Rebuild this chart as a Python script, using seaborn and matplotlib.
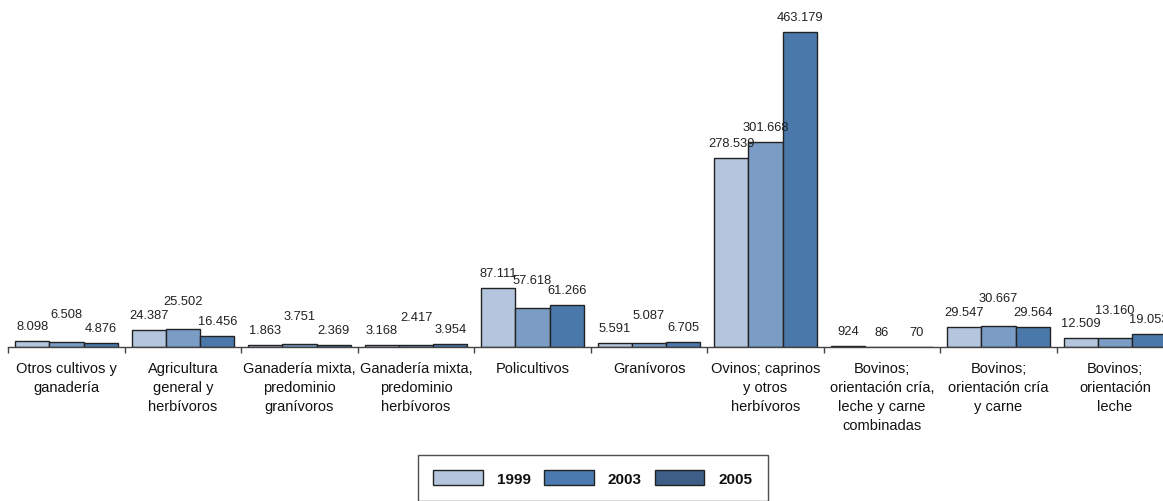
import numpy as np
import pandas as pd
import seaborn as sns
import matplotlib.pyplot as plt
import matplotlib.patches as mpatches

# Datos (valores en unidades; etiquetas con punto como separador de miles)
categorias = [
    "Otros cultivos y\nganadería",
    "Agricultura\ngeneral y\nherbívoros",
    "Ganadería mixta,\npredominio\ngranívoros",
    "Ganadería mixta,\npredominio\nherbívoros",
    "Policultivos",
    "Granívoros",
    "Ovinos; caprinos\ny otros\nherbívoros",
    "Bovinos;\norientación cría,\nleche y carne\ncombinadas",
    "Bovinos;\norientación cría\ny carne",
    "Bovinos;\norientación\nleche",
]
anios = ["1999", "2003", "2005"]
v1999 = [8098, 24387, 1863, 3168, 87111, 5591, 278539, 924, 29547, 12509]
v2003 = [6508, 25502, 3751, 2417, 57618, 5087, 301668, 86, 30667, 13160]
v2005 = [4876, 16456, 2369, 3954, 61266, 6705, 463179, 70, 29564, 19053]

colores_barras = ["#b3c6de", "#7a9cc5", "#4a78ab"]
colores_leyenda = ["#b3c6de", "#4a7ab0", "#3d5f87"]


def formato(v):
    return f"{int(round(v)):,}".replace(",", ".")


def main():
    sns.set_theme(style="white")
    plt.rcParams["font.family"] = ["Liberation Sans", "DejaVu Sans"]

    df = pd.DataFrame({
        "categoria": categorias * 3,
        "valor": v1999 + v2003 + v2005,
        "anio": [a for a in anios for _ in categorias],
    })

    fig = plt.figure(figsize=(11.63, 5.02), dpi=100)
    ax = fig.add_axes([8.3 / 1163, (502 - 347.7) / 502, 1165 / 1163, 347.7 / 502])

    sns.barplot(data=df, x="categoria", y="valor", hue="anio",
                order=categorias, hue_order=anios,
                palette=colores_barras, saturation=1, width=0.88,
                edgecolor="#222222", linewidth=1, legend=False, ax=ax)

    ax.set_xlim(-0.5, len(categorias) - 0.5)
    ax.set_ylim(0, 512000)
    ax.set_xlabel("")
    ax.set_ylabel("")
    ax.set_yticks([])
    for s in ["left", "right", "top"]:
        ax.spines[s].set_visible(False)
    ax.spines["bottom"].set_color("#444444")
    ax.spines["bottom"].set_linewidth(1)

    ax.set_xticks(range(len(categorias)))
    ax.set_xticklabels(categorias, fontsize=10.5, color="#111111", linespacing=1.45)
    ax.set_xticks(np.arange(-0.5, len(categorias)), minor=True)
    ax.tick_params(axis="x", which="major", length=0, pad=10.5)
    ax.tick_params(axis="x", which="minor", length=4, width=1, color="#444444",
                   direction="out", bottom=True)

    # Etiquetas de valor; la del medio sube si choca con sus vecinas
    fig.canvas.draw()
    renderer = fig.canvas.get_renderer()
    px_por_pt = fig.dpi / 72.0
    base_off = 15  # px
    subida = 13  # px
    for i in range(len(categorias)):
        barras = [cont[i] for cont in ax.containers]
        textos, xs, ys, ws = [], [], [], []
        for b in barras:
            x = b.get_x() + b.get_width() / 2
            h = b.get_height()
            t = ax.annotate(formato(h), (x, h), xytext=(0, base_off / px_por_pt),
                            textcoords="offset points", ha="center", va="center",
                            fontsize=9.3, color="#222222")
            textos.append(t)
            px, py = ax.transData.transform((x, h))
            xs.append(px)
            ys.append(py + base_off)
            ws.append(t.get_window_extent(renderer).width)
        choca = False
        for j in (0, 2):
            solapa_x = abs(xs[1] - xs[j]) < (ws[1] + ws[j]) / 2 + 4
            if solapa_x and abs(ys[1] - ys[j]) < 12:
                choca = True
        if choca:
            textos[1].set_position((0, (base_off + subida) / px_por_pt))

    # Leyenda
    handles = [mpatches.Patch(facecolor=c, edgecolor="#222222", linewidth=1, label=a)
               for c, a in zip(colores_leyenda, anios)]
    leg = fig.legend(handles=handles, loc="center", bbox_to_anchor=(593 / 1163, 1 - 479 / 502),
                     ncol=3, frameon=True, fancybox=False, fontsize=11,
                     handlelength=3.25, handleheight=1.05, handletextpad=0.92,
                     columnspacing=0.85, borderpad=1.0)
    leg.get_frame().set_edgecolor("#222222")
    leg.get_frame().set_linewidth(1)
    for t in leg.get_texts():
        t.set_fontweight("bold")
        t.set_color("#111111")

    fig.savefig("out.png", dpi=100)
    plt.close(fig)


if __name__ == "__main__":
    main()
